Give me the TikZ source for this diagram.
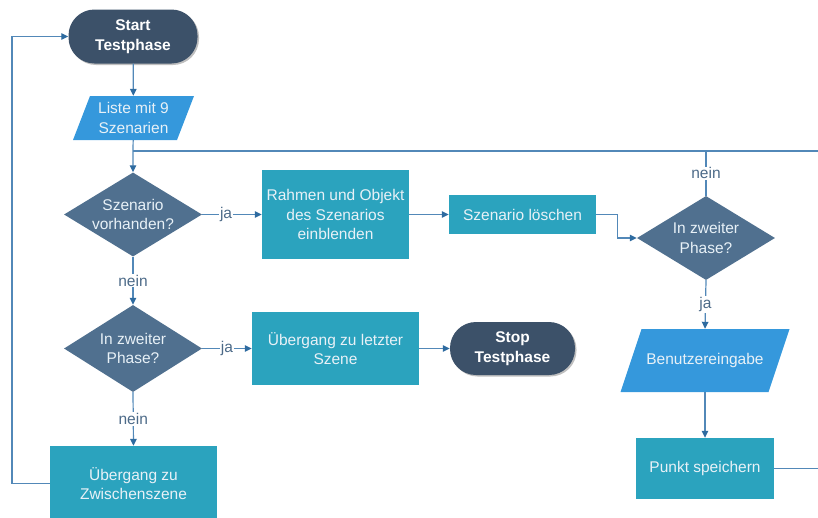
\documentclass[tikz,border=0pt]{standalone}
\usepackage{fontspec}
\setmainfont{Liberation Sans}
\usetikzlibrary{shapes.geometric,arrows.meta,shadows}

\definecolor{termfill}{HTML}{3C5169}
\definecolor{decfill}{HTML}{50708F}
\definecolor{procfill}{HTML}{2BA3BE}
\definecolor{iofill}{HTML}{3598DC}
\definecolor{boxtext}{HTML}{E8F1F7}
\definecolor{linecol}{HTML}{5288B8}
\definecolor{tipcol}{HTML}{2E6BA0}
\definecolor{lblcol}{HTML}{4C6A88}

\tikzset{
  terminal/.style={rectangle, rounded corners=26pt, fill=termfill, text=white,
    font=\fontsize{15.5}{19.5}\selectfont\bfseries, align=center, inner sep=0pt,
    drop shadow={shadow xshift=1.5pt, shadow yshift=-1.5pt, opacity=0.25, fill=black}},
  decision/.style={diamond, fill=decfill, inner sep=0pt},
  dtext/.style={text=boxtext, align=center},
  process/.style={rectangle, fill=procfill, text=boxtext, align=center, inner sep=0pt},
  % input/output: a parallelogram filling the node's box, slanted by #1
  io/.style={rectangle, text=boxtext, align=center, inner sep=0pt,
    path picture={\fill[iofill]
      (path picture bounding box.south west)
      -- ([xshift=-#1]path picture bounding box.south east)
      -- (path picture bounding box.north east)
      -- ([xshift=#1]path picture bounding box.north west) -- cycle;}},
  conn/.style={draw=linecol, line width=1.2pt},
  flow/.style={conn, -{Triangle[length=7pt,width=6.5pt,color=tipcol]}},
  lbl/.style={fill=white, text=lblcol, inner sep=1pt}
}

\begin{document}
\begin{tikzpicture}[x=1pt, y=-1pt, font=\fontsize{15.5}{19.5}\selectfont]
\useasboundingbox (0,0) rectangle (818,517);

% left column
\node[terminal, minimum width=129pt, minimum height=54pt] (start) at (133,36.5) {Start\\Testphase};
\node[io=17pt, minimum width=121pt, minimum height=44pt] (liste) at (133.5,118) {Liste mit 9\\Szenarien};
\node[decision, minimum width=138pt, minimum height=84pt,
      label={[dtext]center:{Szenario\\vorhanden?}}] (d1) at (133,214.5) {};
\node[decision, minimum width=138pt, minimum height=87pt,
      label={[dtext]center:{In zweiter\\Phase?}}] (d2) at (133,348.5) {};
\node[process, minimum width=167pt, minimum height=75pt] (zw) at (133.5,483.5) {Übergang zu\\Zwischenszene};

% middle column
\node[process, minimum width=147pt, minimum height=89pt] (rahmen) at (335.5,214.5) {Rahmen und Objekt\\des Szenarios\\einblenden};
\node[process, minimum width=147pt, minimum height=39pt] (loesch) at (522.5,214.5) {Szenario löschen};
\node[process, minimum width=167pt, minimum height=73pt] (letzte) at (335.5,348.5) {Übergang zu letzter\\Szene};
\node[terminal, minimum width=125pt, minimum height=53pt] (stop) at (512.5,348.5) {Stop\\Testphase};

% right column
\node[decision, minimum width=138pt, minimum height=84pt,
      label={[dtext]center:{In zweiter\\Phase?}}] (d3) at (706,238) {};
\node[io=21pt, minimum width=169pt, minimum height=63pt] (benutzer) at (705,360.5) {Benutzereingabe};
\node[process, minimum width=138pt, minimum height=61pt] (punkt) at (705,468.5) {Punkt speichern};

% junction points of the loops
\coordinate (merge) at (133,151);
\coordinate (edge) at (845,151);
\coordinate (loop) at (12,36.5);

% connectors
\draw[flow] (start) -- (liste);
\draw[flow] (liste) -- (merge) -- (d1.north);
\draw[flow] (d1.east) -- node[lbl, pos=0.4] {ja} (rahmen.west);
\draw[flow] (rahmen) -- (loesch);
\draw[flow] (loesch.east) -- ++(21,0) |- (d3.west);
\draw[conn] (d3.north) -- node[lbl] {nein} (d3.north |- merge);
\draw[flow] (d3.south) -- node[lbl] {ja} (benutzer.north);
\draw[flow] (benutzer.south) -- (punkt.north);
\draw[conn] (punkt.east) -| (edge) -- (merge);
\draw[flow] (d1.south) -- node[lbl] {nein} (d2.north);
\draw[flow] (d2.east) -- node[lbl] {ja} (letzte.west);
\draw[flow] (letzte) -- (stop);
\draw[flow] (d2.south) -- node[lbl] {nein} (zw.north);
\draw[flow] (zw.west) -| (loop) -- (start.west);
\end{tikzpicture}
\end{document}
